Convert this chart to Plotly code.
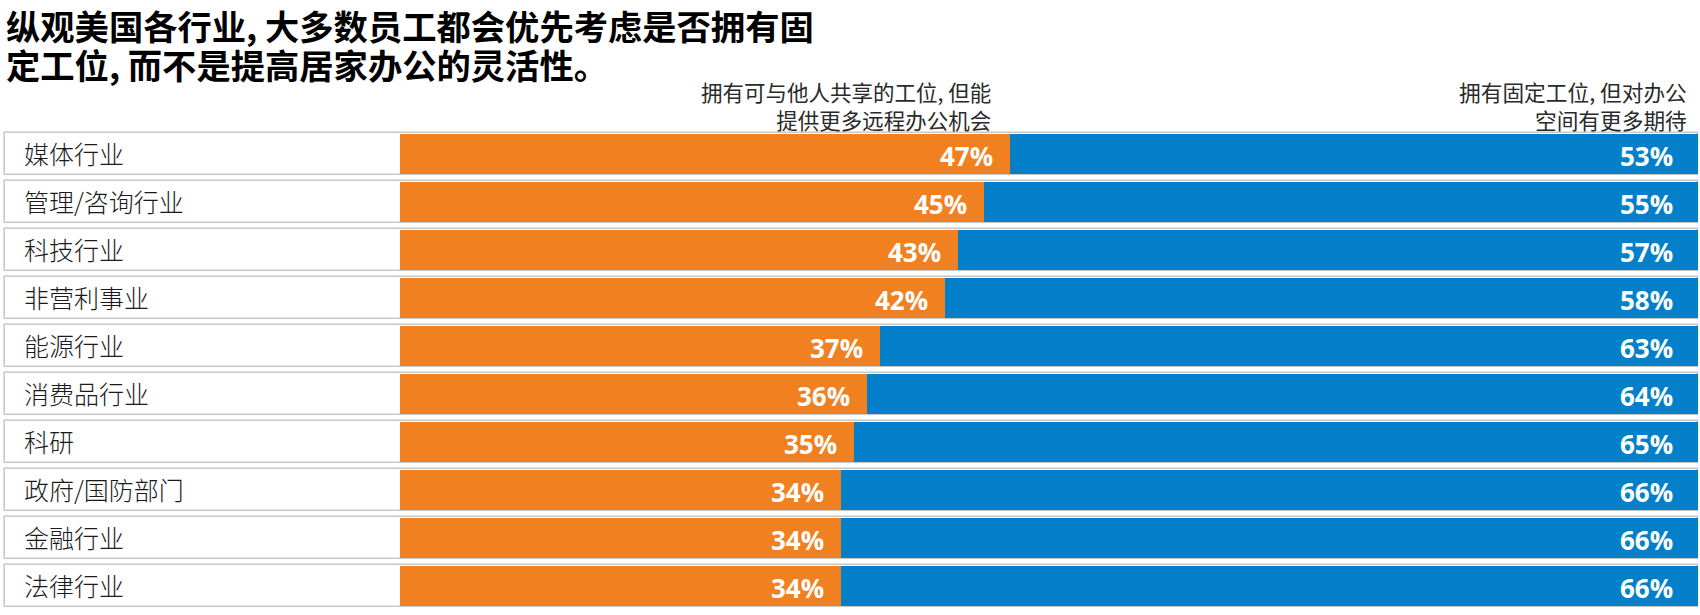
import plotly.graph_objects as go

# data
industries = ["媒体行业", "管理/咨询行业", "科技行业", "非营利事业", "能源行业",
              "消费品行业", "科研", "政府/国防部门", "金融行业", "法律行业"]
shared_desk = [47, 45, 43, 42, 37, 36, 35, 34, 34, 34]
fixed_desk = [53, 55, 57, 58, 63, 64, 65, 66, 66, 66]

title_lines = ["纵观美国各行业, 大多数员工都会优先考虑是否拥有固",
               "定工位, 而不是提高居家办公的灵活性。"]
shared_label = "拥有可与他人共享的工位, 但能<br>提供更多远程办公机会"
fixed_label = "拥有固定工位, 但对办公<br>空间有更多期待"

ORANGE = "#F08020"
BLUE = "#0380C9"
CJK = "Noto Sans CJK SC"
LABEL_BASE = -30.47  # left edge of the white label box, in axis units

fig = go.Figure()

# white row boxes with a thin grey outline
fig.add_trace(go.Bar(
    y=industries,
    x=[100 - LABEL_BASE] * len(industries),
    base=LABEL_BASE,
    orientation="h",
    width=0.86,
    marker=dict(color="white", line=dict(color="#c8c8c8", width=1.6)),
    hoverinfo="skip",
    showlegend=False
))
fig.add_trace(go.Bar(
    y=industries,
    x=shared_desk,
    base=0,
    orientation="h",
    width=0.83,
    marker=dict(color=ORANGE, line=dict(width=0)),
    name="shared",
    showlegend=False
))
fig.add_trace(go.Bar(
    y=industries,
    x=fixed_desk,
    base=shared_desk,
    orientation="h",
    width=0.83,
    marker=dict(color=BLUE, line=dict(width=0)),
    name="fixed",
    showlegend=False
))

annotations = []
for name, s, f in zip(industries, shared_desk, fixed_desk):
    annotations.append(dict(
        x=LABEL_BASE, y=name, xref="x", yref="y",
        text=name, showarrow=False, xanchor="left", xshift=17, yshift=1,
        font=dict(family=CJK, size=25, color="#1a1a1a", weight=300)
    ))
    annotations.append(dict(
        x=s, y=name, xref="x", yref="y",
        text=f"{s}%", showarrow=False, xanchor="right", xshift=-15, yshift=-2,
        font=dict(family="Open Sans", size=26, color="white", weight="bold")
    ))
    annotations.append(dict(
        x=s + f, y=name, xref="x", yref="y",
        text=f"{f}%", showarrow=False, xanchor="right", xshift=-23, yshift=-2,
        font=dict(family="Open Sans", size=26, color="white", weight="bold")
    ))

# title, one annotation per line
for line, ypos in zip(title_lines, [1.219, 1.137]):
    annotations.append(dict(
        x=0, y=ypos, xref="paper", yref="paper", xshift=1,
        text=line, showarrow=False, xanchor="left", yanchor="middle", align="left",
        font=dict(family=CJK, size=34.3, color="black", weight="bold")
    ))

# column headers
annotations.append(dict(
    x=0.584, y=1.05, xref="paper", yref="paper",
    text=shared_label, showarrow=False, xanchor="right", yanchor="middle", align="right",
    font=dict(family=CJK, size=21.5, color="#2a2a2a")
))
annotations.append(dict(
    x=0.994, y=1.05, xref="paper", yref="paper",
    text=fixed_label, showarrow=False, xanchor="right", yanchor="middle", align="right",
    font=dict(family=CJK, size=21.7, color="#2a2a2a")
))

fig.update_layout(
    width=1700,
    height=615,
    barmode="overlay",
    plot_bgcolor="white",
    paper_bgcolor="white",
    margin=dict(l=3, r=1, t=130, b=5),
    annotations=annotations,
    bargap=0
)
fig.update_xaxes(range=[-30.59, 100.08], visible=False, fixedrange=True)
fig.update_yaxes(categoryorder="array", categoryarray=industries,
                 autorange="reversed", visible=False, fixedrange=True)

# drop the page's default body margin so the figure sits at the window corner
fig.write_html("out.html", config={"displayModeBar": False},
               post_script="document.body.style.margin='0';")
